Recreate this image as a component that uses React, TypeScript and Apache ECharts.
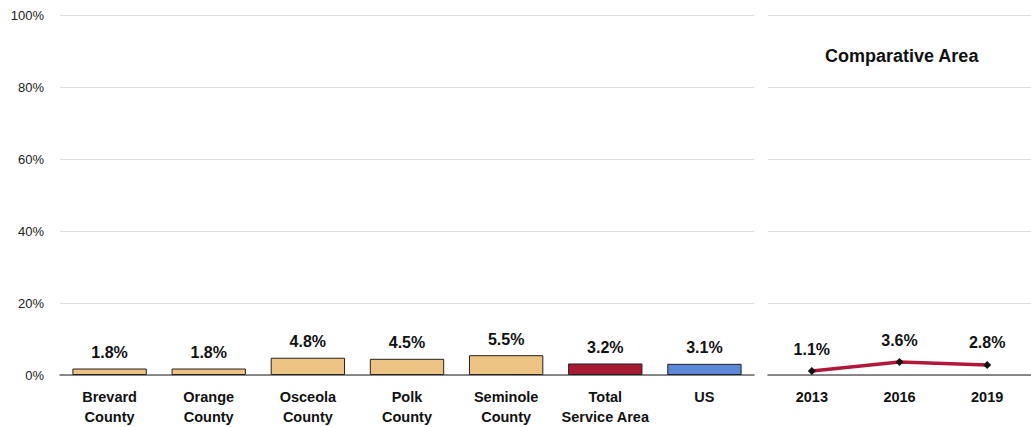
import React, { useEffect, useRef } from "react";
import * as echarts from "echarts";

const categories = ["Brevard\nCounty", "Orange\nCounty", "Osceola\nCounty", "Polk\nCounty", "Seminole\nCounty", "Total\nService Area", "US"];
const values = [1.8, 1.8, 4.8, 4.5, 5.5, 3.2, 3.1];
const barColors = ["#EDC383", "#EDC383", "#EDC383", "#EDC383", "#EDC383", "#A61B31", "#5B88D8"];
const years = ["2013", "2016", "2019"];
const trend = [1.1, 3.6, 2.8];
const yTicks = [0, 20, 40, 60, 80, 100];

const FONT = "'Liberation Sans', Arial, sans-serif";

export default function App() {
  const ref = useRef<HTMLDivElement>(null);
  useEffect(() => {
    if (!ref.current) return;
    const chart = echarts.init(ref.current, null, { renderer: "svg" });
    const yBase = {
      type: "value",
      min: yTicks[0],
      max: yTicks[yTicks.length - 1],
      interval: 20,
      axisLine: { show: false },
      axisTick: { show: false },
      splitLine: { lineStyle: { color: "#dedede", width: 1 } },
    };
    const xBase = {
      type: "category",
      axisTick: { show: false },
      axisLine: { lineStyle: { color: "#666", width: 1.5 } },
      axisLabel: {
        margin: 12,
        fontFamily: FONT,
        fontWeight: "bold",
        fontSize: 14.5,
        lineHeight: 20,
        color: "#111",
        interval: 0,
      },
    };
    const labelStyle = {
      show: true,
      position: "top",
      formatter: (p: any) => p.value.toFixed(1) + "%",
      fontFamily: FONT,
      fontWeight: "bold",
      fontSize: 16,
      color: "#111",
    };
    chart.setOption({
      animation: false,
      backgroundColor: "#fff",
      textStyle: { fontFamily: FONT },
      grid: [
        { left: 60, top: 15, width: 694, height: 360 },
        { left: 768, top: 15, right: -10, height: 360 },
      ],
      xAxis: [
        { ...xBase, gridIndex: 0, data: categories },
        { ...xBase, gridIndex: 1, data: years },
      ],
      yAxis: [
        {
          ...yBase,
          gridIndex: 0,
          axisLabel: { formatter: "{value}%", margin: 16, fontFamily: FONT, fontSize: 13, color: "#222" },
        },
        { ...yBase, gridIndex: 1, axisLabel: { show: false } },
      ],
      graphic: [
        {
          type: "text",
          left: 825,
          top: 47,
          style: { text: "Comparative Area", fontFamily: FONT, fontWeight: "bold", fontSize: 18, fill: "#111" },
        },
      ],
      series: [
        {
          type: "bar",
          xAxisIndex: 0,
          yAxisIndex: 0,
          barWidth: "75%",
          data: values.map((v, i) => ({
            value: v,
            itemStyle: { color: barColors[i], borderColor: "#222", borderWidth: 1 },
          })),
          label: { ...labelStyle, distance: 8 },
        },
        {
          type: "line",
          xAxisIndex: 1,
          yAxisIndex: 1,
          data: trend,
          symbol: "diamond",
          symbolSize: 8,
          itemStyle: { color: "#111" },
          lineStyle: { color: "#B0173A", width: 3.5 },
          label: { ...labelStyle, distance: 10 },
        },
      ],
    });
    return () => chart.dispose();
  }, []);
  return <div ref={ref} style={{ position: "absolute", left: 0, top: 0, width: 1031, height: 427 }} />;
}
